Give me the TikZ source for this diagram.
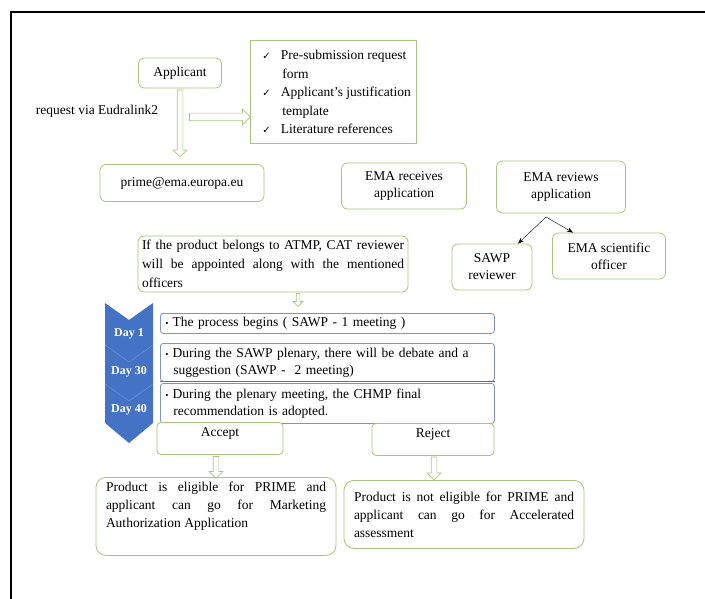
\documentclass[tikz,border=0pt]{standalone}
\usepackage{fontspec}
\setmainfont{Liberation Serif}
\newfontfamily\symfont{DejaVu Sans}
\usetikzlibrary{shapes.arrows,arrows.meta}

\definecolor{boxgreen}{HTML}{A9C47E}
\definecolor{dayblue}{HTML}{4472C4}
\definecolor{stepline}{HTML}{7D93C2}

\newcommand\tickmark{\hspace{6pt}{\symfont\fontsize{10}{12}\selectfont ✓}\hspace{10pt}}
\newcommand\stepdot{{\fontsize{9}{10}\selectfont\textbullet}\hspace{4pt}}

\tikzset{
  gbox/.style={draw=boxgreen, rounded corners=6pt, line width=0.8pt, fill=white,
    align=center, inner sep=4pt},
  stepbox/.style={draw=stepline, rounded corners=3pt, line width=0.8pt,
    anchor=north west, align=left, inner xsep=5pt, inner ysep=1pt, minimum width=334pt, text width=324pt},
  hollow/.style={single arrow, draw=boxgreen, fill=white, line width=0.7pt,
    minimum height=#1, inner sep=2.5pt, single arrow head extend=4pt},
  daylabel/.style={text=white, font=\bfseries\fontsize{12}{14}\selectfont}
}

\begin{document}
\begin{tikzpicture}[x=1pt,y=-1pt, font=\fontsize{13.5}{17}\selectfont]
\useasboundingbox (0,0) rectangle (705,599);

% frame
\draw [line width=2pt] (11,599) -- (11,12) -- (705,12);

% applicant and the request
\node[gbox, minimum width=83pt, minimum height=30pt] (applicant) at (180,73) {Applicant};
\node (eudra) at (97,111) {request via Eudralink2};
\node[gbox, rounded corners=0pt, anchor=north west, align=left, inner xsep=6pt, inner ysep=10pt,
  font=\fontsize{13.5}{18.5}\selectfont] (docs) at (250,40)
  {\tickmark Pre-submission request\\
   \hspace{26pt}form\\
   \tickmark Applicant's justification\\
   \hspace{26pt}template\\
   \tickmark Literature references};
\node[hollow=67pt, rotate=-90] (down1) at (180,122) {};
\node[hollow=61pt, inner sep=3.5pt] (right1) at (218,117) {};

% second row
\node[gbox, minimum width=164pt, minimum height=37pt] (prime) at (182,183) {prime@ema.europa.eu};
\node[gbox, minimum width=125pt, minimum height=46pt] (receives) at (404,186) {EMA receives\\application};
\node[gbox, minimum width=129pt, minimum height=52pt] (reviews) at (561,187) {EMA reviews\\application};

\node[gbox, text width=262pt, align=justify, minimum height=56pt, font=\fontsize{13.5}{19}\selectfont] (atmp) at (273,264)
  {If the product belongs to ATMP, CAT reviewer\linebreak will be appointed along with the mentioned\linebreak officers};
\node[gbox, minimum width=80pt, minimum height=46pt] (sawp) at (492,267) {SAWP\\reviewer};
\node[gbox, minimum width=113pt, minimum height=46pt] (sci) at (609,256) {EMA scientific\\officer};
\coordinate (split) at (546,217);
\draw [-{Stealth[length=6pt]}] (split) -- ([xshift=26pt]sawp.north);
\draw [-{Stealth[length=6pt]}] (split) -- ([xshift=-36pt]sci.north);
\node[hollow=13pt, rotate=-90, single arrow head extend=3pt, inner sep=1.5pt] (down2) at (298,299) {};

% timeline
\fill [dayblue] (105,303) -- (129,320) -- (153,303) -- (153,423) -- (129,443) -- (105,423) -- cycle;
\draw [white, opacity=0.25] (105,345) -- (129,362) -- (153,345);
\draw [white, opacity=0.25] (105,384) -- (129,401) -- (153,384);
\node[daylabel] (d1) at (129,334) {Day 1};
\node[daylabel] (d30) at (129,372) {Day 30};
\node[daylabel] (d40) at (129,410) {Day 40};

\node[stepbox, minimum height=20pt] (s1) at (160,313) {\stepdot The process begins ( SAWP - 1 meeting )};
\node[stepbox, minimum height=38pt] (s2) at (160,343)
  {\stepdot During the SAWP plenary, there will be debate and a\\\hspace{8pt}suggestion (SAWP -\ \ 2 meeting)};
\node[stepbox, minimum height=40pt] (s3) at (160,383)
  {\stepdot During the plenary meeting, the CHMP final\\\hspace{8pt}recommendation is adopted.};
\draw [dayblue, line width=1.2pt] (s2.south west) -- (s2.south east);

% outcomes
\node[gbox, rounded corners=4pt, minimum width=126pt, minimum height=32pt, anchor=north, text depth=12pt] (accept) at (220,422) {Accept};
\node[gbox, rounded corners=4pt, minimum width=122pt, minimum height=32pt, anchor=north, text depth=12pt] (reject) at (433,423) {Reject};
\node[hollow=22pt, rotate=-90] (down3) at (216,466) {};
\node[hollow=23pt, rotate=-90] (down4) at (434,467) {};
\node[gbox, rounded corners=10pt, text width=220pt, align=justify, minimum height=78pt, anchor=north,
  inner xsep=10pt, font=\fontsize{13.5}{18}\selectfont] (yes) at (216,477)
  {Product is eligible for PRIME and\linebreak applicant can go for Marketing\linebreak Authorization Application\\[6pt]};
\node[gbox, rounded corners=10pt, text width=220pt, align=justify, minimum height=68pt, anchor=north,
  inner xsep=10pt, font=\fontsize{13.5}{18}\selectfont] (no) at (464,480)
  {Product is not eligible for PRIME and\linebreak applicant can go for Accelerated\linebreak assessment};
\end{tikzpicture}
\end{document}
